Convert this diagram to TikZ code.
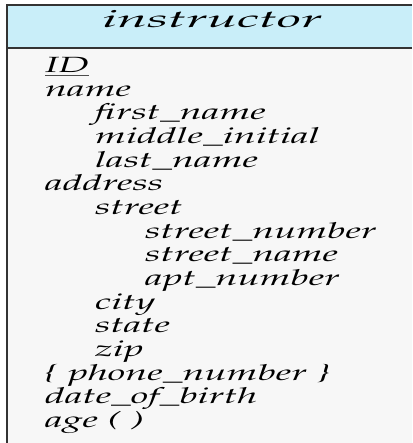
\documentclass[tikz,border=0pt]{standalone}
\usepackage[T1]{fontenc}
\usepackage{mathpazo}
\usepackage{graphicx}
\newcommand\sx[1]{\scalebox{1.8}[1]{#1}}
\newcommand\sxt[1]{\scalebox{2.25}[1]{#1}}
\definecolor{hdrblue}{RGB}{201,238,249}
\begin{document}
\begin{tikzpicture}[x=1pt,y=-1pt]
\tikzset{
  attr/.style={anchor=base west, inner sep=0pt, font=\fontsize{22}{24}\selectfont\itshape},
  ttl/.style={anchor=base, inner sep=0pt, font=\fontsize{24}{26}\selectfont\itshape},
  frame/.style={draw=black!80, line width=1.6pt}
}
\useasboundingbox (0,0) rectangle (412,443);
\fill[white!97!black] (7,48) rectangle (412,443);
\fill[hdrblue] (7,5) rectangle (412,48);
\draw[frame] (412,5) -- (7,5) -- (7,443);
\draw[frame] (7,48) -- (412,48);
\node[ttl] (title) at (212,27.5) {\sxt{instructor}};
\def\L#1{72.7+23.65*#1}
\node[attr] (id) at (45,{\L0}) {\sx{ID}};
\draw[black!70, line width=0.9pt] ([yshift=-2.5pt]id.south west) -- ([yshift=-2.5pt]id.south east);
\node[attr] (name) at (45,{\L1}) {\sx{name}};
\node[attr] (first) at (95,{\L2}) {\sx{first\_name}};
\node[attr] (middle) at (95,{\L3}) {\sx{middle\_initial}};
\node[attr] (last) at (95,{\L4}) {\sx{last\_name}};
\node[attr] (address) at (45,{\L5}) {\sx{address}};
\node[attr] (street) at (95,{\L6}) {\sx{street}};
\node[attr] (snum) at (145,{\L7}) {\sx{street\_number}};
\node[attr] (sname) at (145,{\L8}) {\sx{street\_name}};
\node[attr] (apt) at (145,{\L9}) {\sx{apt\_number}};
\node[attr] (city) at (95,{\L{10}}) {\sx{city}};
\node[attr] (state) at (95,{\L{11}}) {\sx{state}};
\node[attr] (zip) at (95,{\L{12}}) {\sx{zip}};
\node[attr] (phone) at (45,{\L{13}}) {\sx{\{ phone\_number \}}};
\node[attr] (dob) at (45,{\L{14}}) {\sx{date\_of\_birth}};
\node[attr] (age) at (45,{\L{15}}) {\sx{age ( )}};
\end{tikzpicture}
\end{document}
